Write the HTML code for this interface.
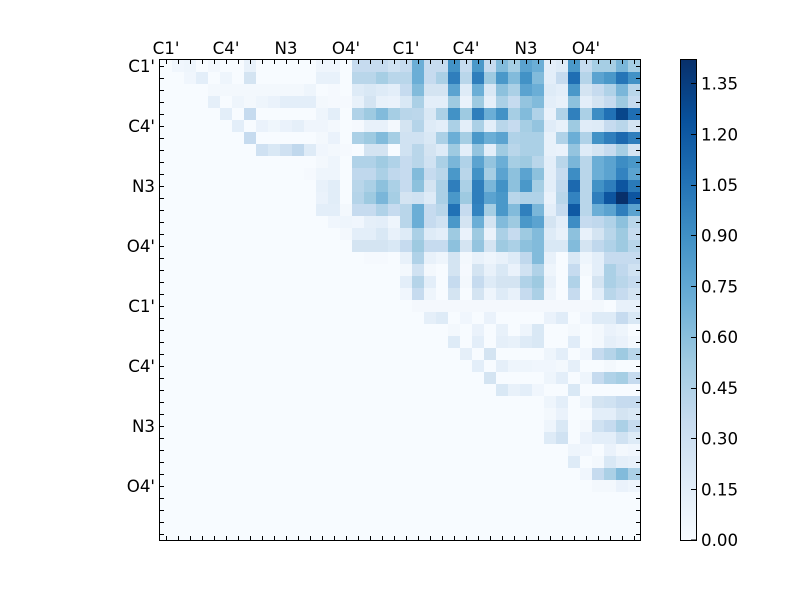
<!DOCTYPE html>
<html><head><meta charset="utf-8"><style>
html,body{margin:0;padding:0;background:#fff;}
svg{display:block;}
text{font-family:"DejaVu Sans","Liberation Sans",sans-serif;font-size:16.67px;fill:#000;}
</style></head><body>
<svg width="800" height="600" viewBox="0 0 800 600" xmlns="http://www.w3.org/2000/svg">
<defs>
<linearGradient id="blues" x1="0" y1="1" x2="0" y2="0">
<stop offset="0" stop-color="#f7fbff"/><stop offset="0.125" stop-color="#deebf7"/><stop offset="0.25" stop-color="#c6dbef"/><stop offset="0.375" stop-color="#9ecae1"/><stop offset="0.5" stop-color="#6baed6"/><stop offset="0.625" stop-color="#4292c6"/><stop offset="0.75" stop-color="#2171b5"/><stop offset="0.875" stop-color="#08519c"/><stop offset="1" stop-color="#08306b"/>
</linearGradient>
</defs>
<rect x="0" y="0" width="800" height="600" fill="#fff"/>
<rect x="160" y="60" width="480" height="480" fill="#f7fbff"/>
<g transform="translate(160,60) scale(12)" shape-rendering="crispEdges">
<g transform="translate(0,0)">
<rect x="1" y="0" width="1" height="1" fill="#f0f6fd"/><rect x="2" y="0" width="1" height="1" fill="#eef5fc"/><rect x="4" y="0" width="1" height="1" fill="#f2f7fd"/><rect x="7" y="0" width="1" height="1" fill="#e8f1fa"/><rect x="13" y="0" width="1" height="1" fill="#eff5fc"/><rect x="14" y="0" width="1" height="1" fill="#eff5fc"/><rect x="16" y="0" width="1" height="1" fill="#c6dbef"/><rect x="17" y="0" width="1" height="1" fill="#c6dbef"/><rect x="18" y="0" width="1" height="1" fill="#c6dbef"/><rect x="19" y="0" width="1" height="1" fill="#d0e2f2"/><rect x="20" y="0" width="1" height="1" fill="#c6dbef"/><rect x="21" y="0" width="1" height="1" fill="#6baed6"/><rect x="22" y="0" width="1" height="1" fill="#c6dbef"/><rect x="23" y="0" width="1" height="1" fill="#c6dbef"/><rect x="24" y="0" width="1" height="1" fill="#4292c6"/><rect x="25" y="0" width="1" height="1" fill="#c6dbef"/><rect x="26" y="0" width="1" height="1" fill="#4a98c9"/><rect x="27" y="0" width="1" height="1" fill="#c6dbef"/><rect x="28" y="0" width="1" height="1" fill="#82bbdb"/><rect x="29" y="0" width="1" height="1" fill="#a6cee4"/><rect x="30" y="0" width="1" height="1" fill="#5ba3d0"/><rect x="31" y="0" width="1" height="1" fill="#6baed6"/><rect x="32" y="0" width="1" height="1" fill="#e3eef9"/><rect x="33" y="0" width="1" height="1" fill="#deebf7"/><rect x="34" y="0" width="1" height="1" fill="#4a98c9"/><rect x="35" y="0" width="1" height="1" fill="#c6dbef"/><rect x="36" y="0" width="1" height="1" fill="#a6cee4"/><rect x="37" y="0" width="1" height="1" fill="#a6cee4"/><rect x="38" y="0" width="1" height="1" fill="#7ab6d9"/><rect x="39" y="0" width="1" height="1" fill="#a6cee4"/>
</g>
<g transform="translate(0,1)">
<rect x="2" y="0" width="1" height="1" fill="#f0f6fd"/><rect x="3" y="0" width="1" height="1" fill="#e3eef9"/><rect x="5" y="0" width="1" height="1" fill="#eef5fc"/><rect x="7" y="0" width="1" height="1" fill="#d4e4f2"/><rect x="13" y="0" width="1" height="1" fill="#e8f1fa"/><rect x="14" y="0" width="1" height="1" fill="#e8f1fa"/><rect x="16" y="0" width="1" height="1" fill="#b9d6ea"/><rect x="17" y="0" width="1" height="1" fill="#b9d6ea"/><rect x="18" y="0" width="1" height="1" fill="#a6cee4"/><rect x="19" y="0" width="1" height="1" fill="#b9d6ea"/><rect x="20" y="0" width="1" height="1" fill="#b9d6ea"/><rect x="21" y="0" width="1" height="1" fill="#6baed6"/><rect x="22" y="0" width="1" height="1" fill="#c6dbef"/><rect x="23" y="0" width="1" height="1" fill="#abd0e6"/><rect x="24" y="0" width="1" height="1" fill="#2f7ebc"/><rect x="25" y="0" width="1" height="1" fill="#b9d6ea"/><rect x="26" y="0" width="1" height="1" fill="#2f7ebc"/><rect x="27" y="0" width="1" height="1" fill="#9ecae1"/><rect x="28" y="0" width="1" height="1" fill="#4a98c9"/><rect x="29" y="0" width="1" height="1" fill="#82bbdb"/><rect x="30" y="0" width="1" height="1" fill="#4292c6"/><rect x="31" y="0" width="1" height="1" fill="#82bbdb"/><rect x="32" y="0" width="1" height="1" fill="#e3eef9"/><rect x="33" y="0" width="1" height="1" fill="#c6dbef"/><rect x="34" y="0" width="1" height="1" fill="#1f6eb3"/><rect x="35" y="0" width="1" height="1" fill="#b5d4e9"/><rect x="36" y="0" width="1" height="1" fill="#5ba3d0"/><rect x="37" y="0" width="1" height="1" fill="#4a98c9"/><rect x="38" y="0" width="1" height="1" fill="#2575b7"/><rect x="39" y="0" width="1" height="1" fill="#4292c6"/>
</g>
<g transform="translate(0,2)">
<rect x="4" y="0" width="8" height="1" fill="#f3f8fd"/><rect x="12" y="0" width="1" height="1" fill="#eef5fc"/><rect x="14" y="0" width="1" height="1" fill="#f5f9fe"/><rect x="16" y="0" width="1" height="1" fill="#deebf7"/><rect x="17" y="0" width="1" height="1" fill="#d9e8f5"/><rect x="18" y="0" width="1" height="1" fill="#deebf7"/><rect x="19" y="0" width="1" height="1" fill="#e3eef9"/><rect x="20" y="0" width="1" height="1" fill="#c6dbef"/><rect x="21" y="0" width="1" height="1" fill="#82bbdb"/><rect x="22" y="0" width="1" height="1" fill="#d4e4f2"/><rect x="23" y="0" width="1" height="1" fill="#d4e4f2"/><rect x="24" y="0" width="1" height="1" fill="#5ba3d0"/><rect x="25" y="0" width="1" height="1" fill="#deebf7"/><rect x="26" y="0" width="1" height="1" fill="#6baed6"/><rect x="27" y="0" width="1" height="1" fill="#d9e8f5"/><rect x="28" y="0" width="1" height="1" fill="#8dc1dd"/><rect x="29" y="0" width="1" height="1" fill="#abd0e6"/><rect x="30" y="0" width="1" height="1" fill="#5ba3d0"/><rect x="31" y="0" width="1" height="1" fill="#6baed6"/><rect x="32" y="0" width="1" height="1" fill="#deebf7"/><rect x="33" y="0" width="1" height="1" fill="#e3eef9"/><rect x="34" y="0" width="1" height="1" fill="#4a98c9"/><rect x="35" y="0" width="1" height="1" fill="#d4e4f2"/><rect x="36" y="0" width="1" height="1" fill="#c6dbef"/><rect x="37" y="0" width="1" height="1" fill="#b0d2e8"/><rect x="38" y="0" width="1" height="1" fill="#7ab6d9"/><rect x="39" y="0" width="1" height="1" fill="#b9d6ea"/>
</g>
<g transform="translate(0,3)">
<rect x="4" y="0" width="1" height="1" fill="#e5eff9"/><rect x="6" y="0" width="1" height="1" fill="#eef5fc"/><rect x="7" y="0" width="1" height="1" fill="#f3f8fd"/><rect x="8" y="0" width="1" height="1" fill="#eef5fc"/><rect x="9" y="0" width="1" height="1" fill="#eaf2fb"/><rect x="10" y="0" width="3" height="1" fill="#e3eef9"/><rect x="13" y="0" width="1" height="1" fill="#f3f8fd"/><rect x="14" y="0" width="2" height="1" fill="#f5f9fe"/><rect x="16" y="0" width="1" height="1" fill="#e8f1fa"/><rect x="17" y="0" width="1" height="1" fill="#d4e4f2"/><rect x="18" y="0" width="1" height="1" fill="#e8f1fa"/><rect x="19" y="0" width="1" height="1" fill="#eaf2fb"/><rect x="20" y="0" width="1" height="1" fill="#d9e8f5"/><rect x="21" y="0" width="1" height="1" fill="#abd0e6"/><rect x="22" y="0" width="1" height="1" fill="#e3eef9"/><rect x="23" y="0" width="1" height="1" fill="#e3eef9"/><rect x="24" y="0" width="1" height="1" fill="#9ecae1"/><rect x="25" y="0" width="1" height="1" fill="#eaf2fb"/><rect x="26" y="0" width="1" height="1" fill="#9ecae1"/><rect x="27" y="0" width="1" height="1" fill="#e5eff9"/><rect x="28" y="0" width="1" height="1" fill="#abd0e6"/><rect x="29" y="0" width="1" height="1" fill="#c6dbef"/><rect x="30" y="0" width="1" height="1" fill="#94c4df"/><rect x="31" y="0" width="1" height="1" fill="#82bbdb"/><rect x="32" y="0" width="1" height="1" fill="#e3eef9"/><rect x="33" y="0" width="1" height="1" fill="#e8f1fa"/><rect x="34" y="0" width="1" height="1" fill="#8dc1dd"/><rect x="35" y="0" width="1" height="1" fill="#e3eef9"/><rect x="36" y="0" width="1" height="1" fill="#d4e4f2"/><rect x="37" y="0" width="1" height="1" fill="#c6dbef"/><rect x="38" y="0" width="1" height="1" fill="#9ecae1"/><rect x="39" y="0" width="1" height="1" fill="#c6dbef"/>
</g>
<g transform="translate(0,4)">
<rect x="5" y="0" width="1" height="1" fill="#e3eef9"/><rect x="7" y="0" width="1" height="1" fill="#c6dbef"/><rect x="13" y="0" width="1" height="1" fill="#eef5fc"/><rect x="14" y="0" width="1" height="1" fill="#e3eef9"/><rect x="16" y="0" width="1" height="1" fill="#b0d2e8"/><rect x="17" y="0" width="1" height="1" fill="#9ecae1"/><rect x="18" y="0" width="1" height="1" fill="#82bbdb"/><rect x="19" y="0" width="1" height="1" fill="#a6cee4"/><rect x="20" y="0" width="1" height="1" fill="#b9d6ea"/><rect x="21" y="0" width="1" height="1" fill="#bcd7eb"/><rect x="22" y="0" width="1" height="1" fill="#d9e8f5"/><rect x="23" y="0" width="1" height="1" fill="#abd0e6"/><rect x="24" y="0" width="1" height="1" fill="#4292c6"/><rect x="25" y="0" width="1" height="1" fill="#9ecae1"/><rect x="26" y="0" width="1" height="1" fill="#2f7ebc"/><rect x="27" y="0" width="1" height="1" fill="#6baed6"/><rect x="28" y="0" width="1" height="1" fill="#4292c6"/><rect x="29" y="0" width="1" height="1" fill="#a6cee4"/><rect x="30" y="0" width="1" height="1" fill="#82bbdb"/><rect x="31" y="0" width="1" height="1" fill="#b0d2e8"/><rect x="32" y="0" width="1" height="1" fill="#eaf2fb"/><rect x="33" y="0" width="1" height="1" fill="#b0d2e8"/><rect x="34" y="0" width="1" height="1" fill="#3080bd"/><rect x="35" y="0" width="1" height="1" fill="#abd0e6"/><rect x="36" y="0" width="1" height="1" fill="#3d8dc4"/><rect x="37" y="0" width="1" height="1" fill="#2171b5"/><rect x="38" y="0" width="1" height="1" fill="#08468b"/><rect x="39" y="0" width="1" height="1" fill="#1f6eb3"/>
</g>
<g transform="translate(0,5)">
<rect x="6" y="0" width="1" height="1" fill="#e3eef9"/><rect x="8" y="0" width="1" height="1" fill="#eaf2fb"/><rect x="9" y="0" width="1" height="1" fill="#eff6fc"/><rect x="10" y="0" width="1" height="1" fill="#eaf2fb"/><rect x="11" y="0" width="1" height="1" fill="#e5eff9"/><rect x="12" y="0" width="2" height="1" fill="#eff5fc"/><rect x="14" y="0" width="1" height="1" fill="#f3f8fd"/><rect x="16" y="0" width="1" height="1" fill="#f5f9fe"/><rect x="17" y="0" width="1" height="1" fill="#e8f1fa"/><rect x="18" y="0" width="1" height="1" fill="#e8f1fa"/><rect x="19" y="0" width="1" height="1" fill="#f3f8fd"/><rect x="20" y="0" width="1" height="1" fill="#d4e4f2"/><rect x="21" y="0" width="1" height="1" fill="#b5d4e9"/><rect x="22" y="0" width="1" height="1" fill="#deebf7"/><rect x="23" y="0" width="1" height="1" fill="#e3eef9"/><rect x="24" y="0" width="1" height="1" fill="#abd0e6"/><rect x="25" y="0" width="1" height="1" fill="#e3eef9"/><rect x="26" y="0" width="1" height="1" fill="#abd0e6"/><rect x="27" y="0" width="1" height="1" fill="#e3eef9"/><rect x="28" y="0" width="1" height="1" fill="#b9d6ea"/><rect x="29" y="0" width="1" height="1" fill="#c6dbef"/><rect x="30" y="0" width="1" height="1" fill="#a6cee4"/><rect x="31" y="0" width="1" height="1" fill="#94c4df"/><rect x="32" y="0" width="1" height="1" fill="#e0ecf8"/><rect x="33" y="0" width="1" height="1" fill="#e8f1fa"/><rect x="34" y="0" width="1" height="1" fill="#9ecae1"/><rect x="35" y="0" width="1" height="1" fill="#e0ecf8"/><rect x="36" y="0" width="1" height="1" fill="#deebf7"/><rect x="37" y="0" width="1" height="1" fill="#c6dbef"/><rect x="38" y="0" width="1" height="1" fill="#b9d6ea"/><rect x="39" y="0" width="1" height="1" fill="#d4e4f2"/>
</g>
<g transform="translate(0,6)">
<rect x="7" y="0" width="1" height="1" fill="#c6dbef"/><rect x="13" y="0" width="1" height="1" fill="#f3f8fd"/><rect x="14" y="0" width="1" height="1" fill="#eaf2fb"/><rect x="16" y="0" width="1" height="1" fill="#abd0e6"/><rect x="17" y="0" width="1" height="1" fill="#9ecae1"/><rect x="18" y="0" width="1" height="1" fill="#82bbdb"/><rect x="19" y="0" width="1" height="1" fill="#a6cee4"/><rect x="20" y="0" width="1" height="1" fill="#d0e2f2"/><rect x="21" y="0" width="1" height="1" fill="#d0e2f2"/><rect x="22" y="0" width="1" height="1" fill="#d9e8f5"/><rect x="23" y="0" width="1" height="1" fill="#abd0e6"/><rect x="24" y="0" width="1" height="1" fill="#6baed6"/><rect x="25" y="0" width="1" height="1" fill="#a6cee4"/><rect x="26" y="0" width="1" height="1" fill="#4a98c9"/><rect x="27" y="0" width="1" height="1" fill="#6baed6"/><rect x="28" y="0" width="1" height="1" fill="#5ba3d0"/><rect x="29" y="0" width="1" height="1" fill="#b0d2e8"/><rect x="30" y="0" width="1" height="1" fill="#abd0e6"/><rect x="31" y="0" width="1" height="1" fill="#abd0e6"/><rect x="32" y="0" width="1" height="1" fill="#e8f1fa"/><rect x="33" y="0" width="1" height="1" fill="#b0d2e8"/><rect x="34" y="0" width="1" height="1" fill="#6baed6"/><rect x="35" y="0" width="1" height="1" fill="#b0d2e8"/><rect x="36" y="0" width="1" height="1" fill="#4292c6"/><rect x="37" y="0" width="1" height="1" fill="#2f7ebc"/><rect x="38" y="0" width="1" height="1" fill="#1c69af"/><rect x="39" y="0" width="1" height="1" fill="#2f7ebc"/>
</g>
<g transform="translate(0,7)">
<rect x="8" y="0" width="1" height="1" fill="#cfe1f2"/><rect x="9" y="0" width="1" height="1" fill="#d9e8f5"/><rect x="10" y="0" width="1" height="1" fill="#cfe1f2"/><rect x="11" y="0" width="1" height="1" fill="#c0d8ed"/><rect x="12" y="0" width="1" height="1" fill="#deebf7"/><rect x="13" y="0" width="1" height="1" fill="#f0f6fd"/><rect x="14" y="0" width="1" height="1" fill="#f3f8fd"/><rect x="15" y="0" width="1" height="1" fill="#f5f9fe"/><rect x="17" y="0" width="1" height="1" fill="#d4e4f2"/><rect x="18" y="0" width="1" height="1" fill="#d4e4f2"/><rect x="20" y="0" width="1" height="1" fill="#d0e2f2"/><rect x="21" y="0" width="1" height="1" fill="#b9d6ea"/><rect x="22" y="0" width="1" height="1" fill="#d4e4f2"/><rect x="23" y="0" width="1" height="1" fill="#deebf7"/><rect x="24" y="0" width="1" height="1" fill="#9ecae1"/><rect x="25" y="0" width="1" height="1" fill="#e3eef9"/><rect x="26" y="0" width="1" height="1" fill="#94c4df"/><rect x="27" y="0" width="1" height="1" fill="#e3eef9"/><rect x="28" y="0" width="1" height="1" fill="#a0cbe2"/><rect x="29" y="0" width="1" height="1" fill="#b9d6ea"/><rect x="30" y="0" width="1" height="1" fill="#abd0e6"/><rect x="31" y="0" width="1" height="1" fill="#abd0e6"/><rect x="32" y="0" width="1" height="1" fill="#e8f1fa"/><rect x="33" y="0" width="1" height="1" fill="#eaf2fb"/><rect x="34" y="0" width="1" height="1" fill="#94c4df"/><rect x="35" y="0" width="1" height="1" fill="#deebf7"/><rect x="36" y="0" width="1" height="1" fill="#d4e4f2"/><rect x="37" y="0" width="1" height="1" fill="#c6dbef"/><rect x="38" y="0" width="1" height="1" fill="#a6cee4"/><rect x="39" y="0" width="1" height="1" fill="#d4e4f2"/>
</g>
<g transform="translate(0,8)">
<rect x="13" y="0" width="1" height="1" fill="#f3f8fd"/><rect x="14" y="0" width="1" height="1" fill="#eef5fc"/><rect x="16" y="0" width="1" height="1" fill="#b0d2e8"/><rect x="17" y="0" width="1" height="1" fill="#b0d2e8"/><rect x="18" y="0" width="1" height="1" fill="#a0cbe2"/><rect x="19" y="0" width="1" height="1" fill="#b0d2e8"/><rect x="20" y="0" width="1" height="1" fill="#c6dbef"/><rect x="21" y="0" width="1" height="1" fill="#b9d6ea"/><rect x="22" y="0" width="1" height="1" fill="#d0e2f2"/><rect x="23" y="0" width="1" height="1" fill="#abd0e6"/><rect x="24" y="0" width="1" height="1" fill="#7ab6d9"/><rect x="25" y="0" width="1" height="1" fill="#b0d2e8"/><rect x="26" y="0" width="1" height="1" fill="#5ba3d0"/><rect x="27" y="0" width="1" height="1" fill="#94c4df"/><rect x="28" y="0" width="1" height="1" fill="#6baed6"/><rect x="29" y="0" width="1" height="1" fill="#a6cee4"/><rect x="30" y="0" width="1" height="1" fill="#9ecae1"/><rect x="31" y="0" width="1" height="1" fill="#b9d6ea"/><rect x="32" y="0" width="1" height="1" fill="#e3eef9"/><rect x="33" y="0" width="1" height="1" fill="#b9d6ea"/><rect x="34" y="0" width="1" height="1" fill="#7ab6d9"/><rect x="35" y="0" width="1" height="1" fill="#b9d6ea"/><rect x="36" y="0" width="1" height="1" fill="#6baed6"/><rect x="37" y="0" width="1" height="1" fill="#5ba3d0"/><rect x="38" y="0" width="1" height="1" fill="#3d8dc4"/><rect x="39" y="0" width="1" height="1" fill="#4a98c9"/>
</g>
<g transform="translate(0,9)">
<rect x="12" y="0" width="1" height="1" fill="#f5f9fe"/><rect x="13" y="0" width="1" height="1" fill="#eef5fc"/><rect x="14" y="0" width="1" height="1" fill="#eef5fc"/><rect x="16" y="0" width="1" height="1" fill="#c0d8ed"/><rect x="17" y="0" width="1" height="1" fill="#c0d8ed"/><rect x="18" y="0" width="1" height="1" fill="#abd0e6"/><rect x="19" y="0" width="1" height="1" fill="#c0d8ed"/><rect x="20" y="0" width="1" height="1" fill="#c6dbef"/><rect x="21" y="0" width="1" height="1" fill="#82bbdb"/><rect x="22" y="0" width="1" height="1" fill="#c6dbef"/><rect x="23" y="0" width="1" height="1" fill="#b9d6ea"/><rect x="24" y="0" width="1" height="1" fill="#4a98c9"/><rect x="25" y="0" width="1" height="1" fill="#b9d6ea"/><rect x="26" y="0" width="1" height="1" fill="#4292c6"/><rect x="27" y="0" width="1" height="1" fill="#a6cee4"/><rect x="28" y="0" width="1" height="1" fill="#5ba3d0"/><rect x="29" y="0" width="1" height="1" fill="#8dc1dd"/><rect x="30" y="0" width="1" height="1" fill="#5ba3d0"/><rect x="31" y="0" width="1" height="1" fill="#8dc1dd"/><rect x="32" y="0" width="1" height="1" fill="#e3eef9"/><rect x="33" y="0" width="1" height="1" fill="#c6dbef"/><rect x="34" y="0" width="1" height="1" fill="#3d8dc4"/><rect x="35" y="0" width="1" height="1" fill="#b9d6ea"/><rect x="36" y="0" width="1" height="1" fill="#6baed6"/><rect x="37" y="0" width="1" height="1" fill="#5ba3d0"/><rect x="38" y="0" width="1" height="1" fill="#3383c0"/><rect x="39" y="0" width="1" height="1" fill="#5ba3d0"/>
</g>
<g transform="translate(0,10)">
<rect x="13" y="0" width="1" height="1" fill="#e8f1fa"/><rect x="14" y="0" width="1" height="1" fill="#e1edf8"/><rect x="16" y="0" width="1" height="1" fill="#b9d6ea"/><rect x="17" y="0" width="1" height="1" fill="#abd0e6"/><rect x="18" y="0" width="1" height="1" fill="#8dc1dd"/><rect x="19" y="0" width="1" height="1" fill="#abd0e6"/><rect x="20" y="0" width="1" height="1" fill="#c6dbef"/><rect x="21" y="0" width="1" height="1" fill="#8dc1dd"/><rect x="22" y="0" width="1" height="1" fill="#d4e4f2"/><rect x="23" y="0" width="1" height="1" fill="#abd0e6"/><rect x="24" y="0" width="1" height="1" fill="#2f7ebc"/><rect x="25" y="0" width="1" height="1" fill="#abd0e6"/><rect x="26" y="0" width="1" height="1" fill="#2f7ebc"/><rect x="27" y="0" width="1" height="1" fill="#7ab6d9"/><rect x="28" y="0" width="1" height="1" fill="#4292c6"/><rect x="29" y="0" width="1" height="1" fill="#8dc1dd"/><rect x="30" y="0" width="1" height="1" fill="#4a98c9"/><rect x="31" y="0" width="1" height="1" fill="#a6cee4"/><rect x="32" y="0" width="1" height="1" fill="#e3eef9"/><rect x="33" y="0" width="1" height="1" fill="#c0d8ed"/><rect x="34" y="0" width="1" height="1" fill="#1c69af"/><rect x="35" y="0" width="1" height="1" fill="#b9d6ea"/><rect x="36" y="0" width="1" height="1" fill="#4292c6"/><rect x="37" y="0" width="1" height="1" fill="#2f7ebc"/><rect x="38" y="0" width="1" height="1" fill="#0d55a0"/><rect x="39" y="0" width="1" height="1" fill="#2a7ab9"/>
</g>
<g transform="translate(0,11)">
<rect x="13" y="0" width="1" height="1" fill="#eaf2fb"/><rect x="14" y="0" width="1" height="1" fill="#e1edf8"/><rect x="16" y="0" width="1" height="1" fill="#b5d4e9"/><rect x="17" y="0" width="1" height="1" fill="#9ecae1"/><rect x="18" y="0" width="1" height="1" fill="#7ab6d9"/><rect x="19" y="0" width="1" height="1" fill="#a6cee4"/><rect x="20" y="0" width="1" height="1" fill="#d4e4f2"/><rect x="21" y="0" width="1" height="1" fill="#d0e2f2"/><rect x="22" y="0" width="1" height="1" fill="#deebf7"/><rect x="23" y="0" width="1" height="1" fill="#abd0e6"/><rect x="24" y="0" width="1" height="1" fill="#4a98c9"/><rect x="25" y="0" width="1" height="1" fill="#9ecae1"/><rect x="26" y="0" width="1" height="1" fill="#2f7ebc"/><rect x="27" y="0" width="1" height="1" fill="#5ba3d0"/><rect x="28" y="0" width="1" height="1" fill="#4a98c9"/><rect x="29" y="0" width="1" height="1" fill="#b9d6ea"/><rect x="30" y="0" width="1" height="1" fill="#b0d2e8"/><rect x="31" y="0" width="1" height="1" fill="#b0d2e8"/><rect x="32" y="0" width="1" height="1" fill="#eaf2fb"/><rect x="33" y="0" width="1" height="1" fill="#b9d6ea"/><rect x="34" y="0" width="1" height="1" fill="#3383c0"/><rect x="35" y="0" width="1" height="1" fill="#b9d6ea"/><rect x="36" y="0" width="1" height="1" fill="#2f7ebc"/><rect x="37" y="0" width="1" height="1" fill="#0d55a0"/><rect x="38" y="0" width="1" height="1" fill="#08306b"/><rect x="39" y="0" width="1" height="1" fill="#0d55a0"/>
</g>
<g transform="translate(0,12)">
<rect x="13" y="0" width="1" height="1" fill="#e3eef9"/><rect x="14" y="0" width="1" height="1" fill="#e3eef9"/><rect x="15" y="0" width="1" height="1" fill="#f3f8fd"/><rect x="16" y="0" width="1" height="1" fill="#c6dbef"/><rect x="17" y="0" width="1" height="1" fill="#c6dbef"/><rect x="18" y="0" width="1" height="1" fill="#b0d2e8"/><rect x="19" y="0" width="1" height="1" fill="#c6dbef"/><rect x="20" y="0" width="1" height="1" fill="#b9d6ea"/><rect x="21" y="0" width="1" height="1" fill="#6baed6"/><rect x="22" y="0" width="1" height="1" fill="#c6dbef"/><rect x="23" y="0" width="1" height="1" fill="#b9d6ea"/><rect x="24" y="0" width="1" height="1" fill="#2171b5"/><rect x="25" y="0" width="1" height="1" fill="#c6dbef"/><rect x="26" y="0" width="1" height="1" fill="#3383c0"/><rect x="27" y="0" width="1" height="1" fill="#a6cee4"/><rect x="28" y="0" width="1" height="1" fill="#4a98c9"/><rect x="29" y="0" width="1" height="1" fill="#82bbdb"/><rect x="30" y="0" width="1" height="1" fill="#3080bd"/><rect x="31" y="0" width="1" height="1" fill="#7ab6d9"/><rect x="32" y="0" width="1" height="1" fill="#e3eef9"/><rect x="33" y="0" width="1" height="1" fill="#c6dbef"/><rect x="34" y="0" width="1" height="1" fill="#0f59a3"/><rect x="35" y="0" width="1" height="1" fill="#b9d6ea"/><rect x="36" y="0" width="1" height="1" fill="#6baed6"/><rect x="37" y="0" width="1" height="1" fill="#5ba3d0"/><rect x="38" y="0" width="1" height="1" fill="#2f7ebc"/><rect x="39" y="0" width="1" height="1" fill="#5ba3d0"/>
</g>
<g transform="translate(0,13)">
<rect x="14" y="0" width="1" height="1" fill="#f0f6fd"/><rect x="15" y="0" width="1" height="1" fill="#eef5fc"/><rect x="16" y="0" width="1" height="1" fill="#f0f6fd"/><rect x="17" y="0" width="1" height="1" fill="#e5eff9"/><rect x="18" y="0" width="1" height="1" fill="#e3eef9"/><rect x="19" y="0" width="1" height="1" fill="#eef5fc"/><rect x="20" y="0" width="1" height="1" fill="#b9d6ea"/><rect x="21" y="0" width="1" height="1" fill="#6baed6"/><rect x="22" y="0" width="1" height="1" fill="#c6dbef"/><rect x="23" y="0" width="1" height="1" fill="#d0e2f2"/><rect x="24" y="0" width="1" height="1" fill="#4a98c9"/><rect x="25" y="0" width="1" height="1" fill="#d4e4f2"/><rect x="26" y="0" width="1" height="1" fill="#6baed6"/><rect x="27" y="0" width="1" height="1" fill="#d4e4f2"/><rect x="28" y="0" width="1" height="1" fill="#82bbdb"/><rect x="29" y="0" width="1" height="1" fill="#9ecae1"/><rect x="30" y="0" width="1" height="1" fill="#4a98c9"/><rect x="31" y="0" width="1" height="1" fill="#5ba3d0"/><rect x="32" y="0" width="1" height="1" fill="#d4e4f2"/><rect x="33" y="0" width="1" height="1" fill="#e3eef9"/><rect x="34" y="0" width="1" height="1" fill="#3d8dc4"/><rect x="35" y="0" width="1" height="1" fill="#c6dbef"/><rect x="36" y="0" width="1" height="1" fill="#c0d8ed"/><rect x="37" y="0" width="1" height="1" fill="#b0d2e8"/><rect x="38" y="0" width="1" height="1" fill="#8dc1dd"/><rect x="39" y="0" width="1" height="1" fill="#b9d6ea"/>
</g>
<g transform="translate(0,14)">
<rect x="15" y="0" width="1" height="1" fill="#f3f8fd"/><rect x="16" y="0" width="1" height="1" fill="#e3eef9"/><rect x="17" y="0" width="1" height="1" fill="#e3eef9"/><rect x="18" y="0" width="1" height="1" fill="#d9e8f5"/><rect x="19" y="0" width="1" height="1" fill="#e8f1fa"/><rect x="20" y="0" width="1" height="1" fill="#deebf7"/><rect x="21" y="0" width="1" height="1" fill="#abd0e6"/><rect x="22" y="0" width="1" height="1" fill="#deebf7"/><rect x="23" y="0" width="1" height="1" fill="#e3eef9"/><rect x="24" y="0" width="1" height="1" fill="#9ecae1"/><rect x="25" y="0" width="1" height="1" fill="#eaf2fb"/><rect x="26" y="0" width="1" height="1" fill="#9ecae1"/><rect x="27" y="0" width="1" height="1" fill="#eaf2fb"/><rect x="28" y="0" width="1" height="1" fill="#abd0e6"/><rect x="29" y="0" width="1" height="1" fill="#c6dbef"/><rect x="30" y="0" width="1" height="1" fill="#9ecae1"/><rect x="31" y="0" width="1" height="1" fill="#82bbdb"/><rect x="32" y="0" width="1" height="1" fill="#deebf7"/><rect x="33" y="0" width="1" height="1" fill="#e8f1fa"/><rect x="34" y="0" width="1" height="1" fill="#8dc1dd"/><rect x="35" y="0" width="1" height="1" fill="#e8f1fa"/><rect x="36" y="0" width="1" height="1" fill="#d4e4f2"/><rect x="37" y="0" width="1" height="1" fill="#b9d6ea"/><rect x="38" y="0" width="1" height="1" fill="#9ecae1"/><rect x="39" y="0" width="1" height="1" fill="#c6dbef"/>
</g>
<g transform="translate(0,15)">
<rect x="16" y="0" width="3" height="1" fill="#d4e4f2"/><rect x="19" y="0" width="1" height="1" fill="#d9e8f5"/><rect x="20" y="0" width="1" height="1" fill="#c6dbef"/><rect x="21" y="0" width="1" height="1" fill="#9ecae1"/><rect x="22" y="0" width="1" height="1" fill="#c6dbef"/><rect x="23" y="0" width="1" height="1" fill="#c6dbef"/><rect x="24" y="0" width="1" height="1" fill="#8dc1dd"/><rect x="25" y="0" width="1" height="1" fill="#d4e4f2"/><rect x="26" y="0" width="1" height="1" fill="#94c4df"/><rect x="27" y="0" width="1" height="1" fill="#d4e4f2"/><rect x="28" y="0" width="1" height="1" fill="#9ecae1"/><rect x="29" y="0" width="1" height="1" fill="#abd0e6"/><rect x="30" y="0" width="1" height="1" fill="#8dc1dd"/><rect x="31" y="0" width="1" height="1" fill="#82bbdb"/><rect x="32" y="0" width="1" height="1" fill="#d9e8f5"/><rect x="33" y="0" width="1" height="1" fill="#d9e8f5"/><rect x="34" y="0" width="1" height="1" fill="#82bbdb"/><rect x="35" y="0" width="1" height="1" fill="#d4e4f2"/><rect x="36" y="0" width="1" height="1" fill="#c0d8ed"/><rect x="37" y="0" width="1" height="1" fill="#b0d2e8"/><rect x="38" y="0" width="1" height="1" fill="#9ecae1"/><rect x="39" y="0" width="1" height="1" fill="#b9d6ea"/>
</g>
<g transform="translate(0,16)">
<rect x="17" y="0" width="2" height="1" fill="#f5f9fe"/><rect x="20" y="0" width="1" height="1" fill="#e8f1fa"/><rect x="21" y="0" width="1" height="1" fill="#b0d2e8"/><rect x="22" y="0" width="1" height="1" fill="#e8f1fa"/><rect x="23" y="0" width="1" height="1" fill="#eef5fc"/><rect x="24" y="0" width="1" height="1" fill="#d4e4f2"/><rect x="25" y="0" width="1" height="1" fill="#f3f8fd"/><rect x="26" y="0" width="1" height="1" fill="#e8f1fa"/><rect x="27" y="0" width="1" height="1" fill="#eef5fc"/><rect x="28" y="0" width="1" height="1" fill="#e8f1fa"/><rect x="29" y="0" width="1" height="1" fill="#deebf7"/><rect x="30" y="0" width="1" height="1" fill="#c0d8ed"/><rect x="31" y="0" width="1" height="1" fill="#82bbdb"/><rect x="32" y="0" width="1" height="1" fill="#e8f1fa"/><rect x="34" y="0" width="1" height="1" fill="#d9e8f5"/><rect x="35" y="0" width="1" height="1" fill="#eef5fc"/><rect x="36" y="0" width="1" height="1" fill="#e3eef9"/><rect x="37" y="0" width="3" height="1" fill="#c6dbef"/>
</g>
<g transform="translate(0,17)">
<rect x="20" y="0" width="1" height="1" fill="#f3f8fd"/><rect x="21" y="0" width="1" height="1" fill="#d0e2f2"/><rect x="22" y="0" width="1" height="1" fill="#f3f8fd"/><rect x="24" y="0" width="1" height="1" fill="#d4e4f2"/><rect x="25" y="0" width="1" height="1" fill="#f5f9fe"/><rect x="26" y="0" width="1" height="1" fill="#d4e4f2"/><rect x="27" y="0" width="1" height="1" fill="#e8f1fa"/><rect x="28" y="0" width="1" height="1" fill="#d9e8f5"/><rect x="29" y="0" width="1" height="1" fill="#eaf2fb"/><rect x="30" y="0" width="1" height="1" fill="#d0e2f2"/><rect x="31" y="0" width="1" height="1" fill="#b0d2e8"/><rect x="32" y="0" width="1" height="1" fill="#eef5fc"/><rect x="34" y="0" width="1" height="1" fill="#c6dbef"/><rect x="35" y="0" width="1" height="1" fill="#f3f8fd"/><rect x="36" y="0" width="1" height="1" fill="#e3eef9"/><rect x="37" y="0" width="1" height="1" fill="#abd0e6"/><rect x="38" y="0" width="1" height="1" fill="#c0d8ed"/><rect x="39" y="0" width="1" height="1" fill="#d0e2f2"/>
</g>
<g transform="translate(0,18)">
<rect x="20" y="0" width="1" height="1" fill="#e3eef9"/><rect x="21" y="0" width="1" height="1" fill="#b5d4e9"/><rect x="22" y="0" width="1" height="1" fill="#e3eef9"/><rect x="24" y="0" width="1" height="1" fill="#c6dbef"/><rect x="25" y="0" width="1" height="1" fill="#f3f8fd"/><rect x="26" y="0" width="1" height="1" fill="#c6dbef"/><rect x="27" y="0" width="1" height="1" fill="#deebf7"/><rect x="28" y="0" width="1" height="1" fill="#d4e4f2"/><rect x="29" y="0" width="1" height="1" fill="#d4e4f2"/><rect x="30" y="0" width="1" height="1" fill="#b0d2e8"/><rect x="31" y="0" width="1" height="1" fill="#9ecae1"/><rect x="32" y="0" width="1" height="1" fill="#e8f1fa"/><rect x="34" y="0" width="1" height="1" fill="#b0d2e8"/><rect x="36" y="0" width="1" height="1" fill="#d4e4f2"/><rect x="37" y="0" width="1" height="1" fill="#abd0e6"/><rect x="38" y="0" width="1" height="1" fill="#b9d6ea"/><rect x="39" y="0" width="1" height="1" fill="#c6dbef"/>
</g>
<g transform="translate(0,19)">
<rect x="20" y="0" width="1" height="1" fill="#f0f6fd"/><rect x="21" y="0" width="1" height="1" fill="#c6dbef"/><rect x="22" y="0" width="1" height="1" fill="#eef5fc"/><rect x="24" y="0" width="1" height="1" fill="#d4e4f2"/><rect x="26" y="0" width="1" height="1" fill="#d4e4f2"/><rect x="27" y="0" width="1" height="1" fill="#eef5fc"/><rect x="28" y="0" width="1" height="1" fill="#deebf7"/><rect x="29" y="0" width="1" height="1" fill="#e8f1fa"/><rect x="30" y="0" width="1" height="1" fill="#c6dbef"/><rect x="31" y="0" width="1" height="1" fill="#abd0e6"/><rect x="32" y="0" width="1" height="1" fill="#eef5fc"/><rect x="34" y="0" width="1" height="1" fill="#c6dbef"/><rect x="36" y="0" width="1" height="1" fill="#e3eef9"/><rect x="37" y="0" width="1" height="1" fill="#b9d6ea"/><rect x="38" y="0" width="1" height="1" fill="#c6dbef"/><rect x="39" y="0" width="1" height="1" fill="#d4e4f2"/>
</g>
<g transform="translate(0,20)">
<rect x="21" y="0" width="15" height="1" fill="#f4f8fd"/><rect x="36" y="0" width="1" height="1" fill="#f3f8fd"/><rect x="38" y="0" width="1" height="1" fill="#e8f1fa"/><rect x="39" y="0" width="1" height="1" fill="#e8f1fa"/>
</g>
<g transform="translate(0,21)">
<rect x="22" y="0" width="1" height="1" fill="#e5eff9"/><rect x="23" y="0" width="1" height="1" fill="#deebf7"/><rect x="25" y="0" width="1" height="1" fill="#f0f6fd"/><rect x="27" y="0" width="1" height="1" fill="#eaf2fb"/><rect x="32" y="0" width="1" height="1" fill="#eaf2fb"/><rect x="33" y="0" width="1" height="1" fill="#e0ecf8"/><rect x="35" y="0" width="1" height="1" fill="#f0f6fd"/><rect x="36" y="0" width="1" height="1" fill="#deebf7"/><rect x="37" y="0" width="1" height="1" fill="#deebf7"/><rect x="38" y="0" width="1" height="1" fill="#c6dbef"/><rect x="39" y="0" width="1" height="1" fill="#d9e8f5"/>
</g>
<g transform="translate(0,22)">
<rect x="24" y="0" width="1" height="1" fill="#f3f8fd"/><rect x="26" y="0" width="1" height="1" fill="#eaf2fb"/><rect x="28" y="0" width="1" height="1" fill="#e8f1fa"/><rect x="30" y="0" width="1" height="1" fill="#eef5fc"/><rect x="31" y="0" width="1" height="1" fill="#d9e8f5"/><rect x="34" y="0" width="1" height="1" fill="#f3f8fd"/><rect x="36" y="0" width="1" height="1" fill="#f3f8fd"/><rect x="37" y="0" width="1" height="1" fill="#eaf2fb"/><rect x="38" y="0" width="1" height="1" fill="#eef5fc"/>
</g>
<g transform="translate(0,23)">
<rect x="24" y="0" width="1" height="1" fill="#deebf7"/><rect x="26" y="0" width="1" height="1" fill="#e3eef9"/><rect x="28" y="0" width="1" height="1" fill="#e5eff9"/><rect x="29" y="0" width="1" height="1" fill="#e8f1fa"/><rect x="30" y="0" width="1" height="1" fill="#deebf7"/><rect x="31" y="0" width="1" height="1" fill="#d9e8f5"/><rect x="34" y="0" width="1" height="1" fill="#e0ecf8"/><rect x="36" y="0" width="1" height="1" fill="#f3f8fd"/><rect x="37" y="0" width="1" height="1" fill="#e5eff9"/><rect x="38" y="0" width="1" height="1" fill="#eaf2fb"/><rect x="39" y="0" width="1" height="1" fill="#f3f8fd"/>
</g>
<g transform="translate(0,24)">
<rect x="25" y="0" width="1" height="1" fill="#e5eff9"/><rect x="27" y="0" width="1" height="1" fill="#d4e4f2"/><rect x="32" y="0" width="1" height="1" fill="#eef5fc"/><rect x="33" y="0" width="1" height="1" fill="#e3eef9"/><rect x="35" y="0" width="1" height="1" fill="#f0f6fd"/><rect x="36" y="0" width="1" height="1" fill="#c6dbef"/><rect x="37" y="0" width="1" height="1" fill="#b5d4e9"/><rect x="38" y="0" width="1" height="1" fill="#9ecae1"/><rect x="39" y="0" width="1" height="1" fill="#b9d6ea"/>
</g>
<g transform="translate(0,25)">
<rect x="26" y="0" width="1" height="1" fill="#e3eef9"/><rect x="28" y="0" width="1" height="1" fill="#e5eff9"/><rect x="29" y="0" width="1" height="1" fill="#eef5fc"/><rect x="30" y="0" width="1" height="1" fill="#eef5fc"/><rect x="31" y="0" width="1" height="1" fill="#f0f6fd"/><rect x="32" y="0" width="1" height="1" fill="#f0f6fd"/><rect x="33" y="0" width="1" height="1" fill="#f3f8fd"/><rect x="34" y="0" width="1" height="1" fill="#e5eff9"/><rect x="37" y="0" width="1" height="1" fill="#f3f8fd"/>
</g>
<g transform="translate(0,26)">
<rect x="27" y="0" width="1" height="1" fill="#d4e4f2"/><rect x="32" y="0" width="1" height="1" fill="#eef5fc"/><rect x="33" y="0" width="1" height="1" fill="#e3eef9"/><rect x="35" y="0" width="1" height="1" fill="#eef5fc"/><rect x="36" y="0" width="1" height="1" fill="#c6dbef"/><rect x="37" y="0" width="1" height="1" fill="#b0d2e8"/><rect x="38" y="0" width="1" height="1" fill="#a6cee4"/><rect x="39" y="0" width="1" height="1" fill="#c6dbef"/>
</g>
<g transform="translate(0,27)">
<rect x="28" y="0" width="1" height="1" fill="#d9e8f5"/><rect x="29" y="0" width="1" height="1" fill="#e8f1fa"/><rect x="30" y="0" width="1" height="1" fill="#e3eef9"/><rect x="31" y="0" width="1" height="1" fill="#f0f6fd"/><rect x="34" y="0" width="1" height="1" fill="#d9e8f5"/>
</g>
<g transform="translate(0,28)">
<rect x="32" y="0" width="1" height="1" fill="#eef5fc"/><rect x="33" y="0" width="1" height="1" fill="#e3eef9"/><rect x="35" y="0" width="1" height="1" fill="#eef5fc"/><rect x="36" y="0" width="1" height="1" fill="#d4e4f2"/><rect x="37" y="0" width="1" height="1" fill="#d0e2f2"/><rect x="38" y="0" width="1" height="1" fill="#c6dbef"/><rect x="39" y="0" width="1" height="1" fill="#c6dbef"/>
</g>
<g transform="translate(0,29)">
<rect x="32" y="0" width="1" height="1" fill="#f3f8fd"/><rect x="33" y="0" width="1" height="1" fill="#eaf2fb"/><rect x="36" y="0" width="1" height="1" fill="#e3eef9"/><rect x="37" y="0" width="1" height="1" fill="#e3eef9"/><rect x="38" y="0" width="1" height="1" fill="#d4e4f2"/><rect x="39" y="0" width="1" height="1" fill="#d9e8f5"/>
</g>
<g transform="translate(0,30)">
<rect x="32" y="0" width="1" height="1" fill="#eef5fc"/><rect x="33" y="0" width="1" height="1" fill="#d9e8f5"/><rect x="35" y="0" width="1" height="1" fill="#f3f8fd"/><rect x="36" y="0" width="1" height="1" fill="#d0e2f2"/><rect x="37" y="0" width="1" height="1" fill="#c6dbef"/><rect x="38" y="0" width="1" height="1" fill="#abd0e6"/><rect x="39" y="0" width="1" height="1" fill="#c6dbef"/>
</g>
<g transform="translate(0,31)">
<rect x="32" y="0" width="1" height="1" fill="#deebf7"/><rect x="33" y="0" width="1" height="1" fill="#d0e2f2"/><rect x="35" y="0" width="1" height="1" fill="#eaf2fb"/><rect x="36" y="0" width="1" height="1" fill="#e3eef9"/><rect x="37" y="0" width="1" height="1" fill="#e3eef9"/><rect x="38" y="0" width="1" height="1" fill="#d0e2f2"/><rect x="39" y="0" width="1" height="1" fill="#deebf7"/>
</g>
<g transform="translate(0,32)">
<rect x="34" y="0" width="1" height="1" fill="#eef5fc"/><rect x="35" y="0" width="1" height="1" fill="#f0f6fd"/><rect x="37" y="0" width="1" height="1" fill="#eaf2fb"/><rect x="38" y="0" width="1" height="1" fill="#f3f8fd"/><rect x="39" y="0" width="1" height="1" fill="#f0f6fd"/>
</g>
<g transform="translate(0,33)">
<rect x="34" y="0" width="1" height="1" fill="#deebf7"/><rect x="36" y="0" width="1" height="1" fill="#f3f8fd"/><rect x="37" y="0" width="1" height="1" fill="#d9e8f5"/><rect x="38" y="0" width="1" height="1" fill="#e5eff9"/><rect x="39" y="0" width="1" height="1" fill="#e8f1fa"/>
</g>
<g transform="translate(0,34)">
<rect x="35" y="0" width="1" height="1" fill="#f0f6fd"/><rect x="36" y="0" width="1" height="1" fill="#c6dbef"/><rect x="37" y="0" width="1" height="1" fill="#abd0e6"/><rect x="38" y="0" width="1" height="1" fill="#82bbdb"/><rect x="39" y="0" width="1" height="1" fill="#abd0e6"/>
</g>
<g transform="translate(0,35)">
<rect x="36" y="0" width="1" height="1" fill="#f3f8fd"/><rect x="37" y="0" width="1" height="1" fill="#f3f8fd"/><rect x="38" y="0" width="1" height="1" fill="#eaf2fb"/><rect x="39" y="0" width="1" height="1" fill="#eef5fc"/>
</g>
</g>

<!-- axes frame -->
<rect x="159.5" y="59.5" width="481" height="481" fill="none" stroke="#000" stroke-width="1" shape-rendering="crispEdges"/>

<!-- ticks -->
<g stroke="#000" stroke-width="1" shape-rendering="crispEdges">
<path d="M166.5 60v4M178.5 60v4M190.5 60v4M202.5 60v4M214.5 60v4M226.5 60v4M238.5 60v4M250.5 60v4M262.5 60v4M274.5 60v4M286.5 60v4M298.5 60v4M310.5 60v4M322.5 60v4M334.5 60v4M346.5 60v4M358.5 60v4M370.5 60v4M382.5 60v4M394.5 60v4M406.5 60v4M418.5 60v4M430.5 60v4M442.5 60v4M454.5 60v4M466.5 60v4M478.5 60v4M490.5 60v4M502.5 60v4M514.5 60v4M526.5 60v4M538.5 60v4M550.5 60v4M562.5 60v4M574.5 60v4M586.5 60v4M598.5 60v4M610.5 60v4M622.5 60v4M634.5 60v4"/>
<path d="M166.5 540v-4M178.5 540v-4M190.5 540v-4M202.5 540v-4M214.5 540v-4M226.5 540v-4M238.5 540v-4M250.5 540v-4M262.5 540v-4M274.5 540v-4M286.5 540v-4M298.5 540v-4M310.5 540v-4M322.5 540v-4M334.5 540v-4M346.5 540v-4M358.5 540v-4M370.5 540v-4M382.5 540v-4M394.5 540v-4M406.5 540v-4M418.5 540v-4M430.5 540v-4M442.5 540v-4M454.5 540v-4M466.5 540v-4M478.5 540v-4M490.5 540v-4M502.5 540v-4M514.5 540v-4M526.5 540v-4M538.5 540v-4M550.5 540v-4M562.5 540v-4M574.5 540v-4M586.5 540v-4M598.5 540v-4M610.5 540v-4M622.5 540v-4M634.5 540v-4"/>
<path d="M160 66.5h4M160 78.5h4M160 90.5h4M160 102.5h4M160 114.5h4M160 126.5h4M160 138.5h4M160 150.5h4M160 162.5h4M160 174.5h4M160 186.5h4M160 198.5h4M160 210.5h4M160 222.5h4M160 234.5h4M160 246.5h4M160 258.5h4M160 270.5h4M160 282.5h4M160 294.5h4M160 306.5h4M160 318.5h4M160 330.5h4M160 342.5h4M160 354.5h4M160 366.5h4M160 378.5h4M160 390.5h4M160 402.5h4M160 414.5h4M160 426.5h4M160 438.5h4M160 450.5h4M160 462.5h4M160 474.5h4M160 486.5h4M160 498.5h4M160 510.5h4M160 522.5h4M160 534.5h4"/>
<path d="M640 66.5h-4M640 78.5h-4M640 90.5h-4M640 102.5h-4M640 114.5h-4M640 126.5h-4M640 138.5h-4M640 150.5h-4M640 162.5h-4M640 174.5h-4M640 186.5h-4M640 198.5h-4M640 210.5h-4M640 222.5h-4M640 234.5h-4M640 246.5h-4M640 258.5h-4M640 270.5h-4M640 282.5h-4M640 294.5h-4M640 306.5h-4M640 318.5h-4M640 330.5h-4M640 342.5h-4M640 354.5h-4M640 366.5h-4M640 378.5h-4M640 390.5h-4M640 402.5h-4M640 414.5h-4M640 426.5h-4M640 438.5h-4M640 450.5h-4M640 462.5h-4M640 474.5h-4M640 486.5h-4M640 498.5h-4M640 510.5h-4M640 522.5h-4M640 534.5h-4"/>
</g>

<!-- top labels -->
<g text-anchor="middle">
<text x="166" y="54">C1'</text>
<text x="226" y="54">C4'</text>
<text x="286" y="54">N3</text>
<text x="346" y="54">O4'</text>
<text x="406" y="54">C1'</text>
<text x="466" y="54">C4'</text>
<text x="526" y="54">N3</text>
<text x="586" y="54">O4'</text>
</g>
<!-- left labels -->
<g text-anchor="end">
<text x="155" y="72">C1'</text>
<text x="155" y="132">C4'</text>
<text x="155" y="192">N3</text>
<text x="155" y="252">O4'</text>
<text x="155" y="312">C1'</text>
<text x="155" y="372">C4'</text>
<text x="155" y="432">N3</text>
<text x="155" y="492">O4'</text>
</g>

<!-- colorbar -->
<rect x="680" y="60" width="16" height="480" fill="url(#blues)"/>
<rect x="680.5" y="59.5" width="16" height="481" fill="none" stroke="#000" stroke-width="1" shape-rendering="crispEdges"/>
<g stroke="#000" stroke-width="1" shape-rendering="crispEdges">
<path d="M696 540h-5M696 489.5h-5M696 438.5h-5M696 388.5h-5M696 337.5h-5M696 286.5h-5M696 235.5h-5M696 185.5h-5M696 134.5h-5M696 83.5h-5"/>
</g>
<g>
<text x="701" y="546">0.00</text>
<text x="701" y="495.5">0.15</text>
<text x="701" y="444.5">0.30</text>
<text x="701" y="394">0.45</text>
<text x="701" y="343">0.60</text>
<text x="701" y="292.5">0.75</text>
<text x="701" y="241.5">0.90</text>
<text x="701" y="191">1.05</text>
<text x="701" y="140.5">1.20</text>
<text x="701" y="89.5">1.35</text>
</g>
</svg>
</body></html>
